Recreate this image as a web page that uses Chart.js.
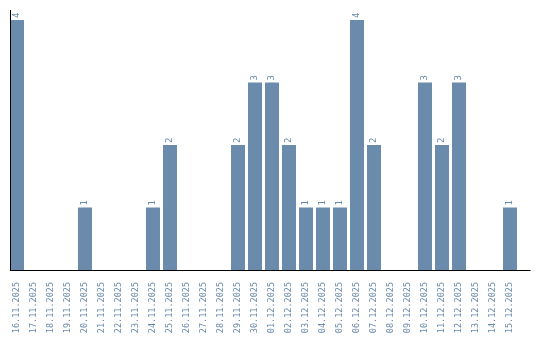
<!DOCTYPE html>
<html>
<head>
<meta charset="utf-8">
<script src="https://cdn.jsdelivr.net/npm/chart.js@4"></script>
<style>
	html, body { margin: 0; padding: 0; background: #fff; }
	#wrap { width: 540px; height: 340px; }
</style>
</head>
<body>
<div id="wrap"><canvas id="graphique"></canvas></div>
<script>
// Dates (catégories) et nombre par jour
const dates = [
	'16.11.2025', '17.11.2025', '18.11.2025', '19.11.2025', '20.11.2025',
	'21.11.2025', '22.11.2025', '23.11.2025', '24.11.2025', '25.11.2025',
	'26.11.2025', '27.11.2025', '28.11.2025', '29.11.2025', '30.11.2025',
	'01.12.2025', '02.12.2025', '03.12.2025', '04.12.2025', '05.12.2025',
	'06.12.2025', '07.12.2025', '08.12.2025', '09.12.2025', '10.12.2025',
	'11.12.2025', '12.12.2025', '13.12.2025', '14.12.2025', '15.12.2025'
];
const valeurs = [
	4, 0, 0, 0, 1,
	0, 0, 0, 1, 2,
	0, 0, 0, 2, 3,
	3, 2, 1, 1, 1,
	4, 2, 0, 0, 3,
	2, 3, 0, 0, 1
];

const couleurBarre = '#6a8bab';
const couleurTexte = '#6a8bab';
const police = "'DejaVu Sans Mono', monospace";

// Valeurs au-dessus des barres, écrites à la verticale
const etiquettesValeurs = {
	id: 'etiquettesValeurs',
	afterDatasetsDraw(chart) {
		const ctx = chart.ctx;
		const meta = chart.getDatasetMeta(0);
		ctx.save();
		ctx.fillStyle = couleurTexte;
		ctx.font = '9px ' + police;
		ctx.textAlign = 'left';
		ctx.textBaseline = 'middle';
		meta.data.forEach((barre, i) => {
			if (!valeurs[i]) return;
			ctx.save();
			ctx.translate(barre.x, barre.y - 2);
			ctx.rotate(-Math.PI / 2);
			ctx.fillText(String(valeurs[i]), 0, 0);
			ctx.restore();
		});
		ctx.restore();
	}
};

// Lignes des axes (l'axe horizontal dépasse un peu à droite)
const lignesAxes = {
	id: 'lignesAxes',
	afterDraw(chart) {
		const ctx = chart.ctx;
		const a = chart.chartArea;
		ctx.save();
		ctx.strokeStyle = '#000';
		ctx.lineWidth = 1;
		ctx.beginPath();
		ctx.moveTo(10.5, a.top);
		ctx.lineTo(10.5, a.bottom + 0.5);
		ctx.moveTo(10, a.bottom + 0.5);
		ctx.lineTo(a.right + 12, a.bottom + 0.5);
		ctx.stroke();
		ctx.restore();
	}
};

const config = {
	type: 'bar',
	data: {
		labels: dates,
		datasets: [{
			data: valeurs,
			backgroundColor: couleurBarre,
			barPercentage: 14 / 17,
			categoryPercentage: 1
		}]
	},
	options: {
		responsive: true,
		maintainAspectRatio: false,
		animation: false,
		layout: { padding: { top: 10, left: 8.5, right: 21.5, bottom: 0 } },
		plugins: {
			legend: { display: false },
			tooltip: { enabled: false }
		},
		scales: {
			x: {
				grid: { display: false },
				border: { display: false },
				ticks: {
					autoSkip: false,
					minRotation: 90,
					maxRotation: 90,
					padding: 4,
					color: couleurTexte,
					font: { family: police, size: 8.5 }
				},
				afterFit(scale) { scale.height = 70; }
			},
			y: {
				display: false,
				min: 0,
				max: 4.16
			}
		}
	},
	plugins: [etiquettesValeurs, lignesAxes]
};

new Chart(document.querySelector('#graphique'), config);
</script>
</body>
</html>
